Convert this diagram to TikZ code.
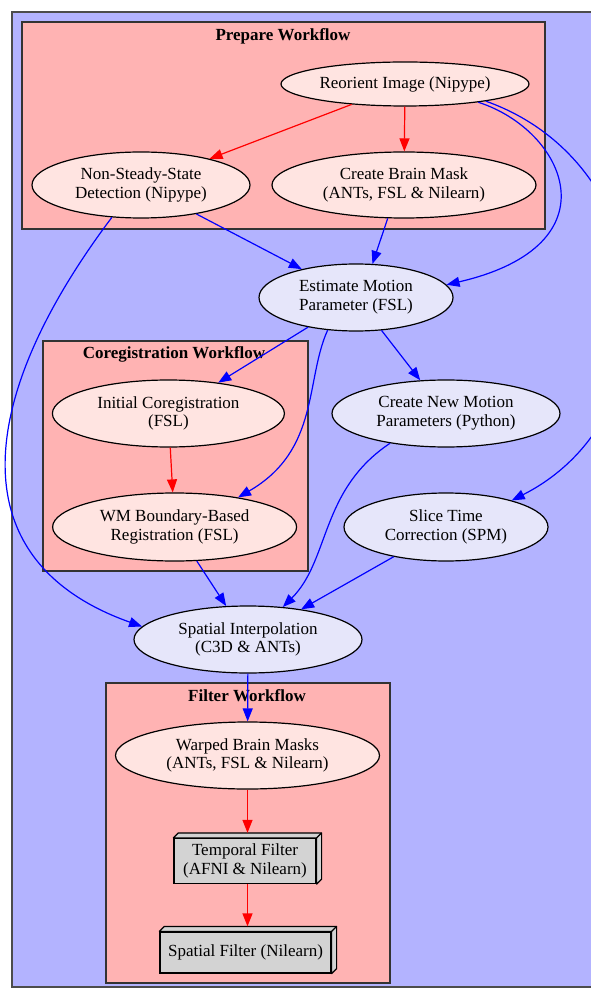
\documentclass[tikz,border=0pt]{standalone}
\usepackage{fontspec}
\setmainfont{Liberation Serif}
\usetikzlibrary{shapes.geometric,arrows.meta}

\definecolor{outerbg}{RGB}{179,179,255}
\definecolor{clusterbg}{RGB}{255,179,179}
\definecolor{rednode}{RGB}{255,228,225}
\definecolor{bluenode}{RGB}{230,230,250}
\definecolor{boxgray}{RGB}{211,211,211}

\newcommand\labelfont{\fontsize{8.5}{9.4}\selectfont}

% side and top of a 3d box node
\newcommand\boxside[1]{%
  \filldraw[fill=boxgray, line width=0.6pt, line join=round]
    (#1.north west) -- ++(5,-5) -- ([shift={(5,-5)}]#1.north east)
    -- ([shift={(5,-5)}]#1.south east) -- (#1.south east) -- (#1.north east) -- cycle;
  \draw[line width=0.6pt] (#1.north east) -- ++(5,-5);
}

\tikzset{
  task/.style={shape=ellipse, draw=black, line width=0.6pt, inner sep=0pt,
    align=center, font=\labelfont},
  inner/.style={task, fill=rednode},
  outer/.style={task, fill=bluenode},
  filterbox/.style={shape=rectangle, draw=black, fill=boxgray, line width=0.6pt,
    inner sep=0pt, align=center, font=\labelfont},
  cluster/.style={draw=black!80, line width=1pt, fill=clusterbg},
  title/.style={font=\labelfont\bfseries},
  flow/.style={-{Triangle[length=6.5pt,width=5pt]}, line width=0.6pt},
  inflow/.style={flow, color=red},
  outflow/.style={flow, color=blue}
}

\begin{document}
\begin{tikzpicture}[x=0.5pt, y=-0.5pt]
    \useasboundingbox (0,0) rectangle (590,988);
    \draw[draw=black!70, line width=1pt, fill=outerbg] (12,12) rectangle (600,987);

    % clusters
    \draw[cluster] (22,22) rectangle (545,229);
    \node[title] (preptitle) at (283,36) {Prepare Workflow};
    \draw[cluster] (43,341) rectangle (308,571);
    \node[title] (coregtitle) at (174,354) {Coregistration Workflow};
    \draw[cluster] (106,683) rectangle (390,983);
    \node[title] (filtertitle) at (247,696) {Filter Workflow};

    % nodes
    \node[inner, minimum width=124pt, minimum height=22pt] (reor) at (405,84) {Reorient Image (Nipype)};
    \node[inner, minimum width=109pt, minimum height=33pt] (nss) at (141,185) {Non-Steady-State\\Detection (Nipype)};
    \node[inner, minimum width=132pt, minimum height=33pt] (mask) at (404,185) {Create Brain Mask\\(ANTs, FSL \& Nilearn)};
    \node[outer, minimum width=97pt, minimum height=33.5pt] (est) at (356,297.5) {Estimate Motion\\Parameter (FSL)};
    \node[inner, minimum width=116pt, minimum height=33.5pt] (init) at (168.4,413.5) {Initial Coregistration\\(FSL)};
    \node[inner, minimum width=122pt, minimum height=34pt] (wm) at (174.6,527) {WM Boundary-Based\\Registration (FSL)};
    \node[outer, minimum width=114pt, minimum height=33.5pt] (newm) at (446,413.5) {Create New Motion\\Parameters (Python)};
    \node[outer, minimum width=102pt, minimum height=34pt] (slice) at (446,527) {Slice Time\\Correction (SPM)};
    \node[outer, minimum width=114pt, minimum height=33.5pt] (interp) at (248,639.5) {Spatial Interpolation\\(C3D \& ANTs)};
    \node[inner, minimum width=132pt, minimum height=33.5pt] (warp) at (247.5,755.5) {Warped Brain Masks\\(ANTs, FSL \& Nilearn)};
    \node[filterbox, minimum width=71pt, minimum height=22.5pt] (temp) at (245,861) {Temporal Filter\\(AFNI \& Nilearn)};
    \boxside{temp}
    \node[filterbox, minimum width=85.5pt, minimum height=20.5pt] (spat) at (245.5,952.5) {Spatial Filter (Nilearn)};
    \boxside{spat}

    % connections
    \draw[inflow] (reor) -- (nss);
    \draw[inflow] (reor) -- (mask);
    \draw[outflow] (reor.-14) .. controls (565,130) and (618,245) .. (est.8);
    \draw[outflow] (reor.-12) .. controls (665,165) and (680,415) .. (slice.22);
    \draw[outflow] (nss) -- (est);
    \draw[outflow] (nss.-132) .. controls (-27,402) and (-40,562) .. (interp.173);
    \draw[outflow] (mask.-116) -- (est.64);
    \draw[outflow] (est) -- (init);
    \draw[outflow] (est.-131) .. controls (305,380) and (320,450) .. (wm.25);
    \draw[outflow] (est) -- (newm);
    \draw[inflow] (init) -- (wm);
    \draw[outflow] (wm) -- (interp);
    \draw[outflow] (newm.-152) .. controls (320,490) and (330,560) .. (interp.43);
    \draw[outflow] (slice) -- (interp);
    \draw[outflow] (interp) -- (warp);
    \draw[inflow] (warp) -- ([yshift=2.5pt]warp |- temp.north);
    \draw[inflow] (temp.south -| warp) -- ([yshift=2.5pt]warp |- spat.north);
\end{tikzpicture}
\end{document}
